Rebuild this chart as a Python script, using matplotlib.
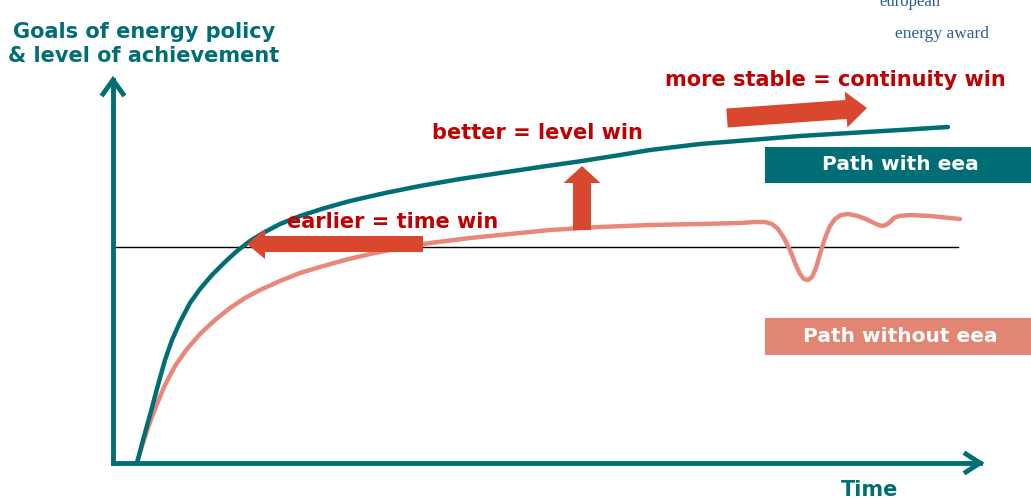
import matplotlib.pyplot as plt
from matplotlib.patches import FancyArrow, Rectangle

plt.rcParams['font.family'] = ['DejaVu Sans']

TEAL = '#006e74'
SALMON = '#e8877a'
BOX_SALMON = '#e28575'
ARROW_RED = '#d9472e'
TEXT_RED = '#c00000'

# curve points (picture coords: x to the right, y downward)
with_x = [137, 143, 150, 158, 165, 172, 180, 190, 200, 212, 225, 237, 250, 263, 280, 300, 325, 350,
          385, 420, 460, 500, 540, 582, 620, 650, 700, 750, 800, 850, 900, 948]
with_y = [463, 440, 415, 385, 360, 340, 322, 303, 289, 275, 262, 251, 241, 233, 224, 216, 208, 201,
          193, 186, 179, 173, 167, 161, 155, 150, 144, 140, 136, 133, 130, 127]

without_x = [137, 143, 150, 157, 165, 175, 187, 200, 215, 230, 245, 260, 280, 300, 320, 345, 370, 400,
             430, 470, 510, 550, 600, 650, 700, 740, 755, 765, 772, 778, 784, 790, 795, 800, 804, 808,
             812, 816, 820, 825, 830, 835, 841, 848, 858, 868, 876, 882, 886, 890, 894, 899, 910, 930, 960]
without_y = [463, 443, 422, 404, 385, 366, 349, 334, 320, 308, 298, 290, 281, 273, 267, 260, 254, 248,
             243, 238, 234, 230, 227, 225, 224, 223, 222, 222, 224, 229, 238, 250, 263, 274, 279, 280,
             277, 268, 254, 238, 226, 219, 215, 214, 216, 220, 224, 226, 225, 222, 218, 216, 215, 216, 219]

goal_level = 247
goal_span = (113, 958)

fig = plt.figure(figsize=(10.31, 4.99), dpi=100)
ax = fig.add_axes([0, 0, 1, 1])
ax.set_xlim(0, 1031)
ax.set_ylim(499, 0)
ax.axis('off')

# goal line
ax.plot(goal_span, [goal_level, goal_level], color='black', lw=1, zorder=1)

# paths
ax.plot(without_x, without_y, color=SALMON, lw=3.2, solid_capstyle='round',
        solid_joinstyle='round', zorder=2)
ax.plot(with_x, with_y, color=TEAL, lw=3.2, solid_capstyle='round',
        solid_joinstyle='round', zorder=3)

# axes with open arrowheads
ax.plot([113, 113], [463, 80], color=TEAL, lw=3.5, zorder=4)
ax.plot([103, 113, 123], [94, 80, 94], color=TEAL, lw=3.5, solid_joinstyle='miter', zorder=4)
ax.plot([113, 980], [463, 463], color=TEAL, lw=3.5, zorder=4)
ax.plot([966, 980, 966], [454, 463, 472], color=TEAL, lw=3.5, solid_joinstyle='miter', zorder=4)

# fat red arrows
ax.add_patch(FancyArrow(727, 118, 140, -10, width=19, head_width=36, head_length=21,
                        length_includes_head=True, color=ARROW_RED, lw=0, zorder=5))
ax.add_patch(FancyArrow(582, 230, 0, -64, width=18, head_width=37, head_length=17,
                        length_includes_head=True, color=ARROW_RED, lw=0, zorder=5))
ax.add_patch(FancyArrow(423, 244, -176, 0, width=16, head_width=30, head_length=18,
                        length_includes_head=True, color=ARROW_RED, lw=0, zorder=5))

# labels
ax.text(144, 44, 'Goals of energy policy\n& level of achievement', color=TEAL, fontsize=15,
        fontweight='bold', ha='center', va='center', linespacing=1.2)
ax.text(870, 490, 'Time', color=TEAL, fontsize=15, fontweight='bold', ha='center', va='center')
ax.text(835, 80, 'more stable = continuity win', color=TEXT_RED, fontsize=15,
        fontweight='bold', ha='center', va='center')
ax.text(537, 133, 'better = level win', color=TEXT_RED, fontsize=15,
        fontweight='bold', ha='center', va='center')
ax.text(393, 222, 'earlier = time win', color=TEXT_RED, fontsize=15,
        fontweight='bold', ha='center', va='center')

# legend boxes
ax.add_patch(Rectangle((765, 147), 270, 36, color=TEAL, lw=0, zorder=5))
ax.text(900, 165, 'Path with eea', color='white', fontsize=14.5, fontweight='bold',
        ha='center', va='center', zorder=6)
ax.add_patch(Rectangle((765, 318), 270, 37, color=BOX_SALMON, lw=0, zorder=5))
ax.text(900, 337, 'Path without eea', color='white', fontsize=14.5, fontweight='bold',
        ha='center', va='center', zorder=6)

# logo text (cut at top, as in the source)
ax.text(910, 2, 'european', color='#2e5a95', fontsize=12, family='Liberation Serif',
        ha='center', va='center')
ax.text(942, 34, 'energy award', color='#2e5a95', fontsize=12.5, family='Liberation Serif',
        ha='center', va='center')

fig.savefig('out.png', dpi=100)
